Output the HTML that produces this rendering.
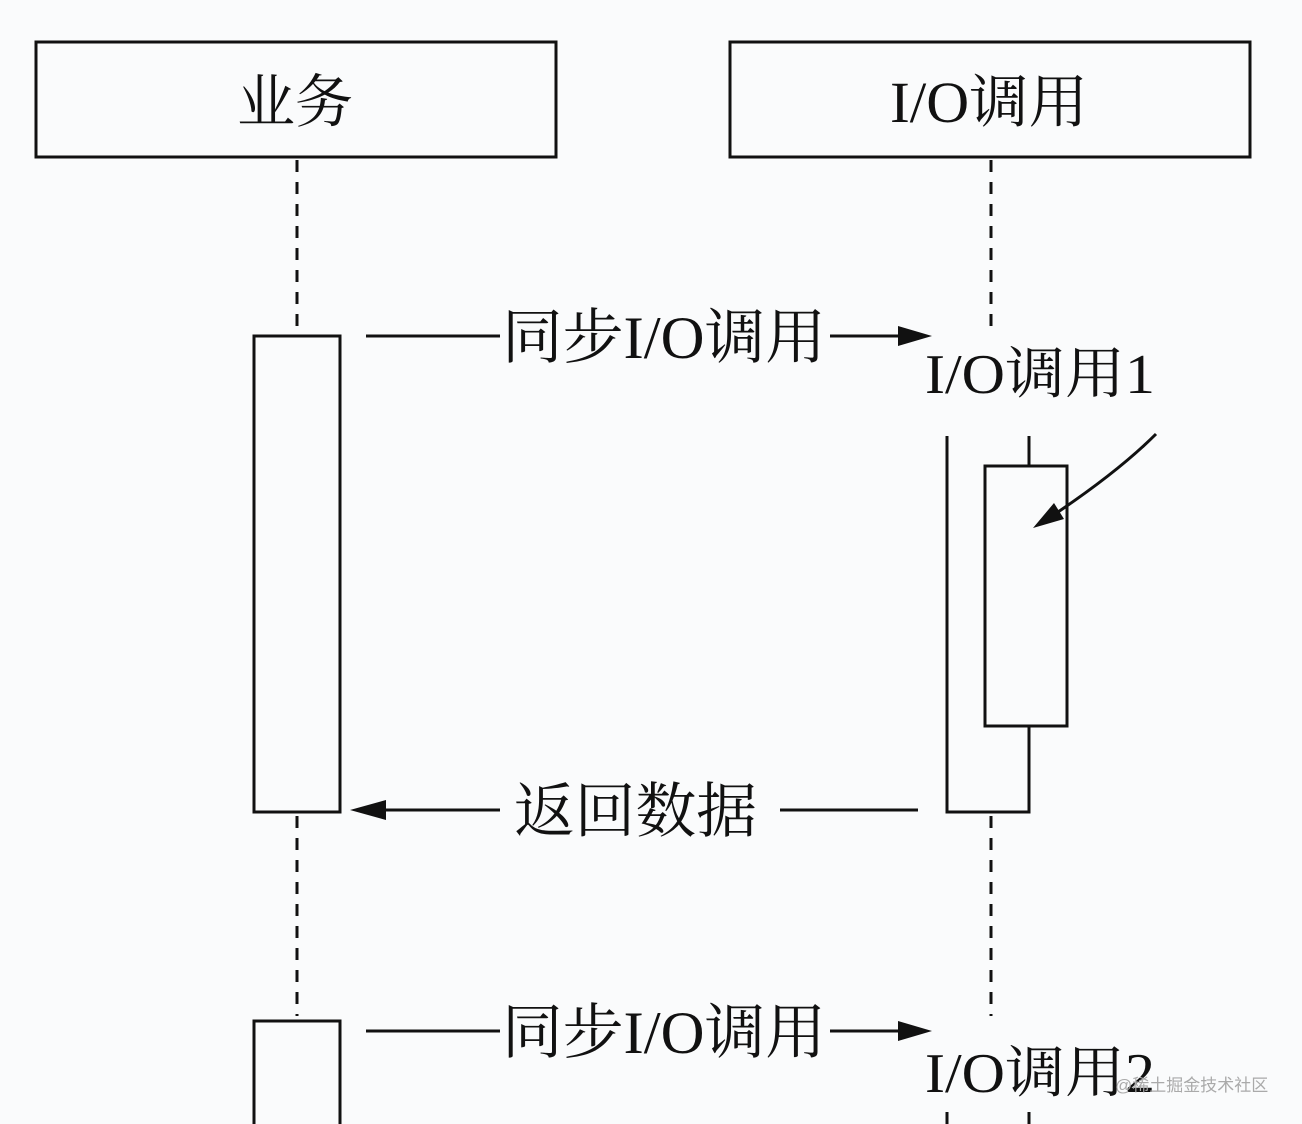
<!DOCTYPE html>
<html><head><meta charset="utf-8"><style>
html,body{margin:0;padding:0;background:#fafbfc;}
svg{display:block}
text{font-family:"Liberation Serif","Noto Serif CJK SC",serif;fill:#111}
</style></head><body>
<svg width="1302" height="1124" viewBox="0 0 1302 1124">
<rect width="1302" height="1124" fill="#fafbfc"/>
<g stroke="#111" stroke-width="3" fill="none">
<rect x="36" y="42" width="520" height="115" fill="#fafbfc"/>
<rect x="730" y="42" width="520" height="115" fill="#fafbfc"/>
<line x1="297" y1="160" x2="297" y2="330" stroke-dasharray="12,10"/>
<line x1="297" y1="816" x2="297" y2="1016" stroke-dasharray="12,10"/>
<line x1="991" y1="160" x2="991" y2="330" stroke-dasharray="12,10"/>
<line x1="991" y1="816" x2="991" y2="1016" stroke-dasharray="12,10"/>
<rect x="254" y="336" width="86" height="476"/>
<path d="M254 1124 V1021 H340 V1124"/>
<path d="M947 436 V812 H1029 V726"/>
<line x1="1029" y1="436" x2="1029" y2="466"/>
<rect x="985" y="466" width="82" height="260"/>
<line x1="366" y1="336" x2="500" y2="336"/>
<line x1="830" y1="336" x2="905" y2="336"/>
<line x1="366" y1="1031" x2="500" y2="1031"/>
<line x1="830" y1="1031" x2="905" y2="1031"/>
<line x1="375" y1="810" x2="500" y2="810"/>
<line x1="780" y1="810" x2="918" y2="810"/>
<path d="M1156 434 Q1120 470 1058 512"/>
<line x1="947" y1="1112" x2="947" y2="1124"/>
<line x1="1029" y1="1112" x2="1029" y2="1124"/>
</g>
<g fill="#111">
<path d="M932 336 L898 326 L898 346 Z"/>
<path d="M932 1031 L898 1021 L898 1041 Z"/>
<path d="M350 810 L386 800 L386 820 Z"/>
<path d="M1033 528 L1054 503 L1064 519 Z"/>
</g>
<text x="237" y="122" font-size="58" textLength="116" lengthAdjust="spacingAndGlyphs">业务</text>
<text x="890" y="122" font-size="58" textLength="198" lengthAdjust="spacingAndGlyphs">I/O调用</text>
<text x="502" y="358" font-size="60" textLength="324" lengthAdjust="spacingAndGlyphs">同步I/O调用</text>
<text x="502" y="1053" font-size="60" textLength="324" lengthAdjust="spacingAndGlyphs">同步I/O调用</text>
<text x="925" y="393" font-size="56" textLength="230" lengthAdjust="spacingAndGlyphs">I/O调用1</text>
<text x="925" y="1092" font-size="56" textLength="230" lengthAdjust="spacingAndGlyphs">I/O调用2</text>
<text x="514" y="832" font-size="60" textLength="243" lengthAdjust="spacingAndGlyphs">返回数据</text>
<text x="1115" y="1091" font-size="17" style="fill:#aaa;font-family:'Liberation Sans','Noto Sans CJK SC',sans-serif">@稀土掘金技术社区</text>
</svg>
</body></html>
